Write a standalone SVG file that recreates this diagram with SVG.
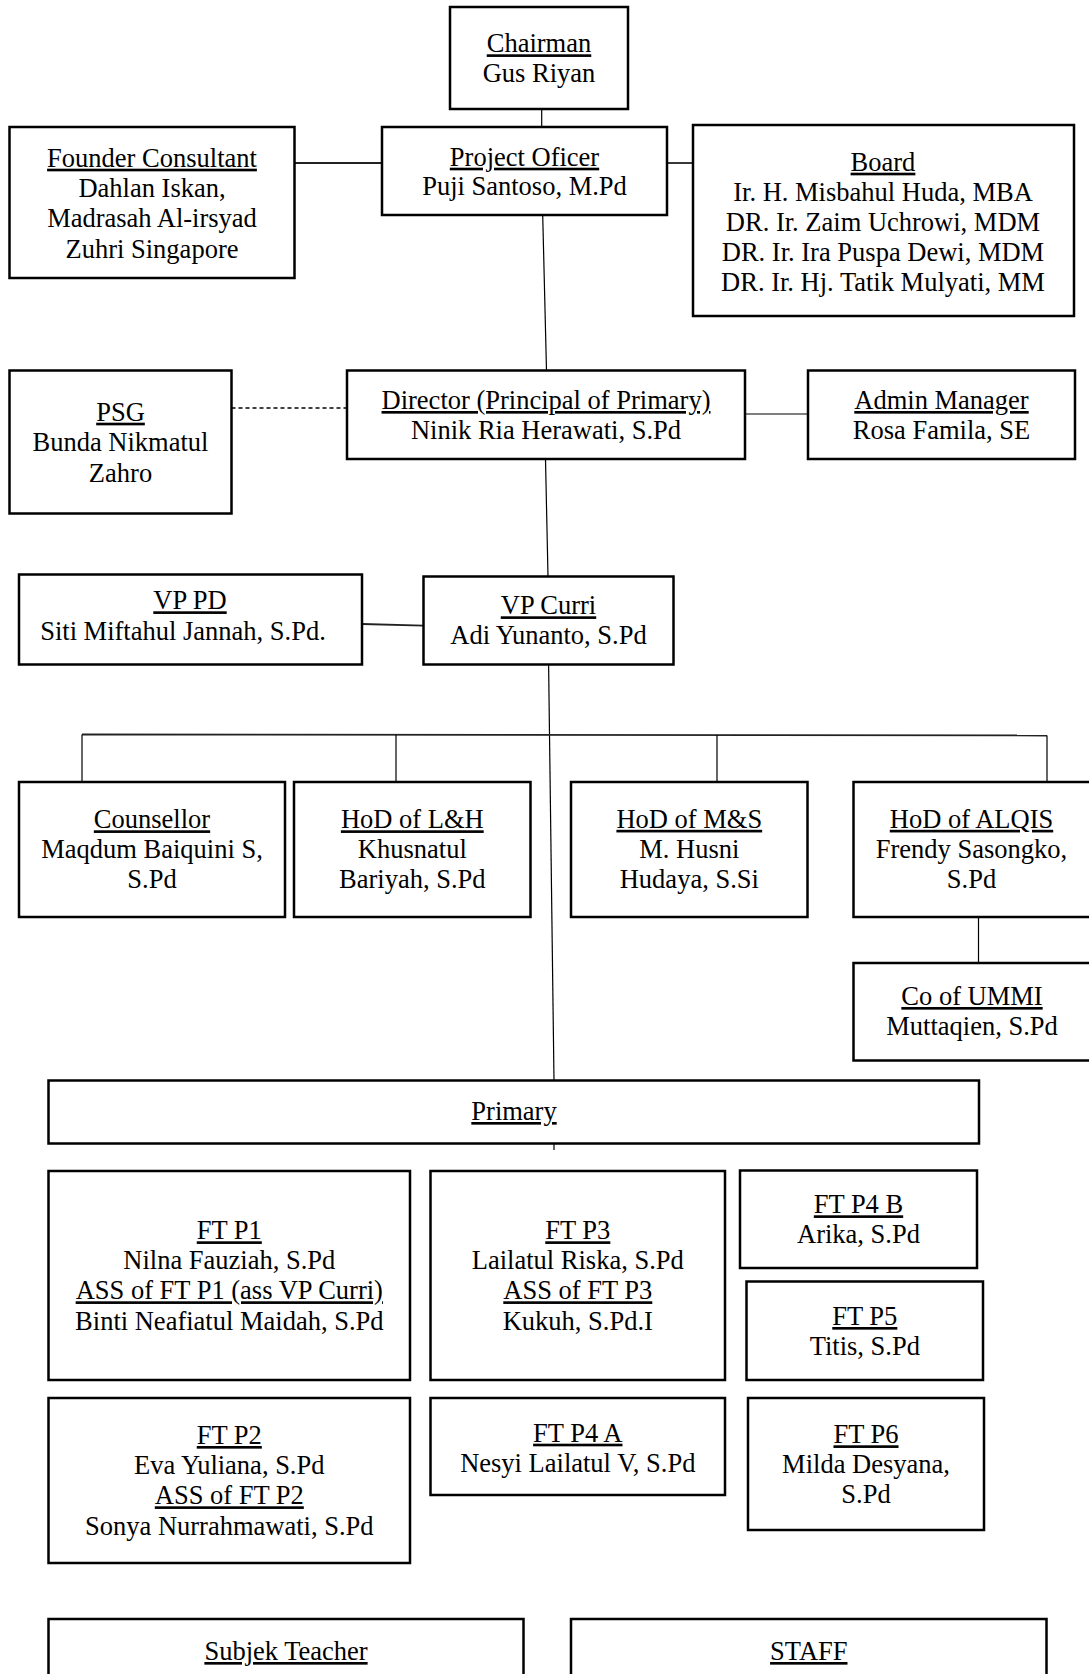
<svg xmlns="http://www.w3.org/2000/svg" width="1089" height="1674" viewBox="0 0 1089 1674">
<style>
.box{fill:#fff;stroke:#000;stroke-width:2.5}
.ln{fill:none;stroke:#000;stroke-width:1.2}
.lnb{fill:none;stroke:#222;stroke-width:1.8}
.dash{fill:none;stroke:#000;stroke-width:1.4;stroke-dasharray:4 3}
text{font-family:"Liberation Serif","Times New Roman",serif;font-size:26.5px;fill:#000;text-anchor:middle}
.u{text-decoration:underline;text-decoration-skip-ink:none}
</style>
<rect width="1089" height="1674" fill="#fff"/>
<g id="connectors">
<path class="ln" d="M541.7 109 V127"/>
<path class="lnb" d="M294.5 163 H382"/>
<path class="lnb" d="M667 163 H693"/>
<path class="ln" d="M542.7 215 L546.5 370.5"/>
<path class="dash" d="M231.5 408 H347"/>
<path class="ln" d="M745 414 H808"/>
<path class="ln" d="M545.5 459 L548 576.5"/>
<path class="lnb" d="M362 624 L423.5 625.7"/>
<path class="ln" d="M548.6 664.5 L554 1080.5"/>
<path class="ln" d="M554 1143.5 V1150"/>
<path class="lnb" d="M82 734.5 L1047 735.5"/>
<path class="ln" d="M82 734.5 V782 M396 735 V782 M717 735 V782 M1047 735.5 V782"/>
<path class="ln" d="M978.5 917 V963"/>
</g>
<g id="chairman"><rect class="box" x="450" y="7" width="178" height="102"/><text x="539" y="52.3" class="u">Chairman</text><text x="539" y="82.3">Gus Riyan</text></g>
<g id="project-officer"><rect class="box" x="382" y="127" width="285" height="88"/><text x="524.5" y="165.7" class="u">Project Oficer</text><text x="524.5" y="195">Puji Santoso, M.Pd</text></g>
<g id="founder"><rect class="box" x="9.5" y="127" width="285" height="151"/><text x="152" y="166.7" class="u">Founder Consultant</text><text x="152" y="196.7">Dahlan Iskan,</text><text x="152" y="227.2">Madrasah Al-irsyad</text><text x="152" y="257.7">Zuhri Singapore</text></g>
<g id="board"><rect class="box" x="693" y="125" width="381" height="191"/><text x="883" y="170.7" class="u">Board</text><text x="883" y="200.7">Ir. H. Misbahul Huda, MBA</text><text x="883" y="230.7">DR. Ir. Zaim Uchrowi, MDM</text><text x="883" y="260.7">DR. Ir. Ira Puspa Dewi, MDM</text><text x="883" y="290.7">DR. Ir. Hj. Tatik Mulyati, MM</text></g>
<g id="psg"><rect class="box" x="9.5" y="370.5" width="222" height="143"/><text x="120.5" y="420.7" class="u">PSG</text><text x="120.5" y="451.2">Bunda Nikmatul</text><text x="120.5" y="481.7">Zahro</text></g>
<g id="director"><rect class="box" x="347" y="370.5" width="398" height="88.5"/><text x="546" y="409" class="u">Director (Principal of Primary)</text><text x="546" y="439.3">Ninik Ria Herawati, S.Pd</text></g>
<g id="admin-manager"><rect class="box" x="808" y="370.5" width="267" height="88.5"/><text x="941.5" y="409" class="u">Admin Manager</text><text x="941.5" y="439.3">Rosa Famila, SE</text></g>
<g id="vp-pd"><rect class="box" x="19" y="574.5" width="343" height="90"/><text x="190" y="609.3" class="u">VP PD</text><text x="183" y="640">Siti Miftahul Jannah, S.Pd.</text></g>
<g id="vp-curri"><rect class="box" x="423.5" y="576.5" width="250" height="88"/><text x="548.5" y="614.3" class="u">VP Curri</text><text x="548.5" y="644">Adi Yunanto, S.Pd</text></g>
<g id="counsellor"><rect class="box" x="19" y="782" width="266" height="135"/><text x="152" y="828.3" class="u">Counsellor</text><text x="152" y="858.3">Maqdum Baiquini S,</text><text x="152" y="888.3">S.Pd</text></g>
<g id="hod-lh"><rect class="box" x="294" y="782" width="236.5" height="135"/><text x="412.3" y="828.3" class="u">HoD of L&amp;H</text><text x="412.3" y="858.3">Khusnatul</text><text x="412.3" y="888.3">Bariyah, S.Pd</text></g>
<g id="hod-ms"><rect class="box" x="571" y="782" width="236.5" height="135"/><text x="689.3" y="827.8" class="u">HoD of M&amp;S</text><text x="689.3" y="857.8">M. Husni</text><text x="689.3" y="887.8">Hudaya, S.Si</text></g>
<g id="hod-alqis"><rect class="box" x="853.5" y="782" width="240" height="135"/><text x="971.5" y="827.8" class="u">HoD of ALQIS</text><text x="971.5" y="857.8">Frendy Sasongko,</text><text x="971.5" y="887.8">S.Pd</text></g>
<g id="co-ummi"><rect class="box" x="853.5" y="963" width="240" height="97.5"/><text x="972" y="1005" class="u">Co of UMMI</text><text x="972" y="1035">Muttaqien, S.Pd</text></g>
<g id="primary"><rect class="box" x="48.5" y="1080.5" width="930.5" height="63"/><text x="514" y="1120" class="u">Primary</text></g>
<g id="ft-p1"><rect class="box" x="48.5" y="1171" width="361.5" height="209"/><text x="229.3" y="1239.3" class="u">FT P1</text><text x="229.3" y="1269.3">Nilna Fauziah, S.Pd</text><text x="229.3" y="1299.3" class="u">ASS of FT P1 (ass VP Curri)</text><text x="229.3" y="1329.8">Binti Neafiatul Maidah, S.Pd</text></g>
<g id="ft-p3"><rect class="box" x="430.5" y="1171" width="294.5" height="209"/><text x="577.8" y="1239.3" class="u">FT P3</text><text x="577.8" y="1269.3">Lailatul Riska, S.Pd</text><text x="577.8" y="1299.3" class="u">ASS of FT P3</text><text x="577.8" y="1329.8">Kukuh, S.Pd.I</text></g>
<g id="ft-p4b"><rect class="box" x="740" y="1170.5" width="237" height="97.5"/><text x="858.5" y="1213.3" class="u">FT P4 B</text><text x="858.5" y="1243.3">Arika, S.Pd</text></g>
<g id="ft-p5"><rect class="box" x="746.5" y="1281.5" width="236.5" height="98.5"/><text x="864.8" y="1325" class="u">FT P5</text><text x="864.8" y="1355">Titis, S.Pd</text></g>
<g id="ft-p2"><rect class="box" x="48.5" y="1398" width="361.5" height="165"/><text x="229.3" y="1444" class="u">FT P2</text><text x="229.3" y="1474">Eva Yuliana, S.Pd</text><text x="229.3" y="1504.3" class="u">ASS of FT P2</text><text x="229.3" y="1535">Sonya Nurrahmawati, S.Pd</text></g>
<g id="ft-p4a"><rect class="box" x="430.5" y="1398" width="294.5" height="97"/><text x="577.8" y="1441.7" class="u">FT P4 A</text><text x="577.8" y="1471.7">Nesyi Lailatul V, S.Pd</text></g>
<g id="ft-p6"><rect class="box" x="748" y="1398" width="236" height="132"/><text x="866" y="1443.3" class="u">FT P6</text><text x="866" y="1473.3">Milda Desyana,</text><text x="866" y="1503.3">S.Pd</text></g>
<g id="subjek-teacher"><rect class="box" x="48.5" y="1619" width="475" height="70"/><text x="286" y="1660" class="u">Subjek Teacher</text></g>
<g id="staff"><rect class="box" x="571" y="1619" width="475.5" height="70"/><text x="808.8" y="1660" class="u">STAFF</text></g>
</svg>
